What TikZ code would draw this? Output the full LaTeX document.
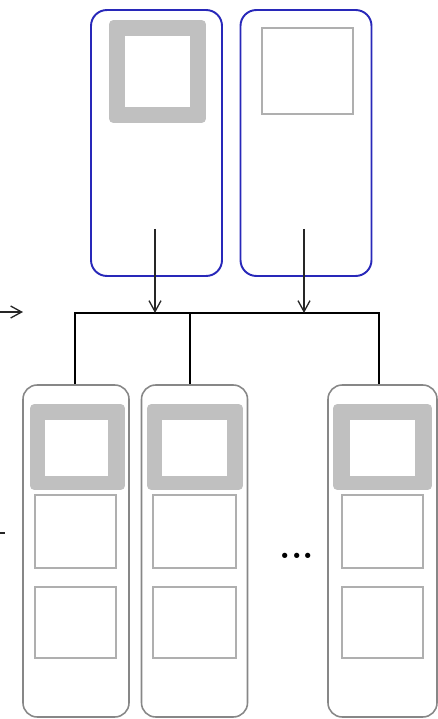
\documentclass[tikz,border=0pt]{standalone}
\usepackage{xcolor}
\usepackage{tikz}
\usetikzlibrary{arrows.meta, positioning}

\definecolor{topblue}{RGB}{40,40,185}
\definecolor{framegray}{RGB}{192,192,192}
\definecolor{boxgray}{RGB}{135,135,135}
\definecolor{slotgray}{RGB}{175,175,175}

\begin{document}
\begin{tikzpicture}[
  x=0.02cm, y=-0.02cm,
  topbox/.style={rectangle, draw=topblue, line width=1.1pt, rounded corners=9pt, minimum width=2.62cm, minimum height=5.32cm, inner sep=0pt},
  rackbox/.style={rectangle, draw=boxgray, line width=0.9pt, rounded corners=8pt, minimum width=2.12cm, minimum height=6.64cm, inner sep=0pt},
  frame/.style={rectangle, fill=framegray, rounded corners=2.5pt, inner sep=0pt},
  hole/.style={rectangle, fill=white, inner sep=0pt},
  slot/.style={rectangle, draw=slotgray, line width=0.6pt, inner sep=0pt, minimum width=1.62cm},
  arrow/.style={-{Straight Barb[length=2.2mm, width=2.4mm]}, line width=0.75pt, black!85},
  bus/.style={line width=1pt, black}
]
\useasboundingbox (0,0) rectangle (438,719);

% upper pair
\node[topbox] (top1) at (156.5,143) {};
\node[topbox] (top2) at (306,143) {};
\node[frame, minimum width=1.94cm, minimum height=2.06cm] (topframe) at (157.5,71.5) {};
\node[hole, minimum width=1.30cm, minimum height=1.42cm] (tophole) at (157.5,71.5) {};
\node[rectangle, draw=slotgray, line width=0.6pt, minimum width=1.82cm, minimum height=1.72cm] (topslot) at (307.5,71) {};

% lower row
\node[rackbox] (rack1) at (76,551) {};
\node[rackbox] (rack2) at (194.5,551) {};
\node[rackbox, minimum width=2.18cm] (rack3) at (382.5,551) {};

\node[frame, minimum width=1.90cm, minimum height=1.72cm] (frame1) at (77.5,447) {};
\node[hole, minimum width=1.26cm, minimum height=1.12cm] (hole1) at (76.5,448) {};
\node[frame, minimum width=1.92cm, minimum height=1.72cm] (frame2) at (195,447) {};
\node[hole, minimum width=1.30cm, minimum height=1.12cm] (hole2) at (194.5,448) {};
\node[frame, minimum width=1.98cm, minimum height=1.72cm] (frame3) at (382.5,447) {};
\node[hole, minimum width=1.30cm, minimum height=1.12cm] (hole3) at (382.5,448) {};

\node[slot, minimum height=1.46cm] (slot1a) at (75.5,531.5) {};
\node[slot, minimum height=1.42cm] (slot1b) at (75.5,622.5) {};
\node[slot, minimum width=1.66cm, minimum height=1.46cm] (slot2a) at (194.5,531.5) {};
\node[slot, minimum width=1.66cm, minimum height=1.42cm] (slot2b) at (194.5,622.5) {};
\node[slot, minimum height=1.46cm] (slot3a) at (382.5,531.5) {};
\node[slot, minimum height=1.42cm] (slot3b) at (382.5,622.5) {};

\node[font=\huge\bfseries] (more) at (297,556) {...};

% bus between the two rows
\coordinate (busL) at (75,313);
\coordinate (busM) at (190,313);
\coordinate (busR) at (379,313);
\coordinate (drop1) at (155,229);
\coordinate (drop2) at (304,229);
\draw[bus] (rack1.north -| busL) -- (busL) -- (busR) -- (rack3.north -| busR);
\draw[bus] (busM) -- (rack2.north -| busM);
\draw[arrow] (drop1) -- (drop1 |- busL);
\draw[arrow] (drop2) -- (drop2 |- busL);

% pieces running off the left edge
\coordinate (inL) at (0,312);
\coordinate (inR) at (23,312);
\draw[arrow] (inL) -- (inR);
\coordinate (tickL) at (0,533);
\coordinate (tickR) at (5,533);
\draw[line width=0.9pt, black!85] (tickL) -- (tickR);

\end{tikzpicture}
\end{document}
